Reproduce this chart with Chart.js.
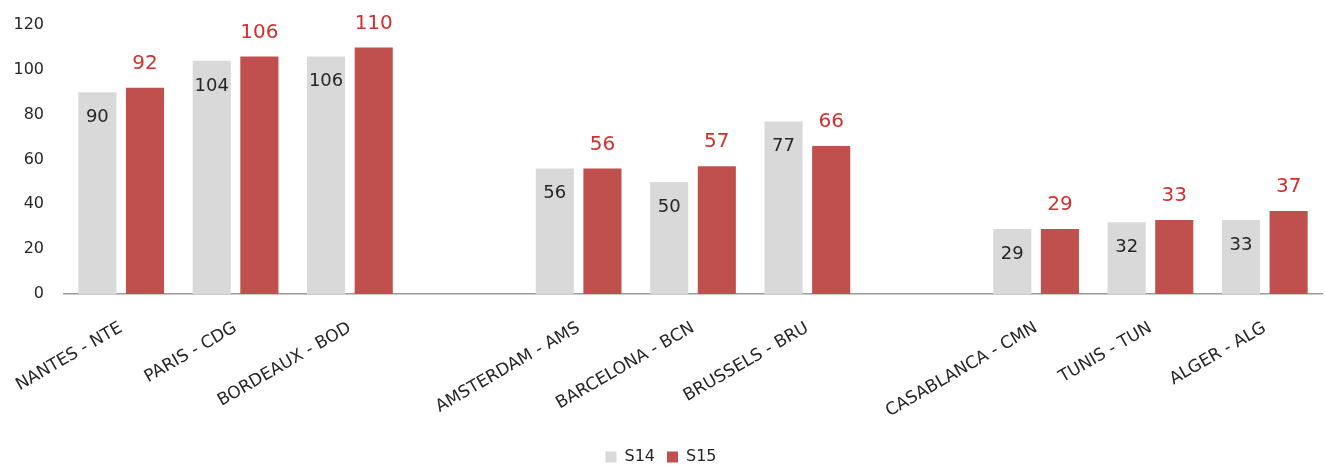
<!DOCTYPE html>
<html>
<head>
<meta charset="utf-8">
<script src="https://cdn.jsdelivr.net/npm/chart.js@4"></script>
<style>
  body { margin: 0; background: #fff; }
  #wrap { width: 1325px; height: 465px; }
</style>
</head>
<body>
<div id="wrap"><canvas id="my_bar_chart"></canvas></div>
<script>
// data
const airports = [
  "NANTES - NTE",
  "PARIS - CDG",
  "BORDEAUX - BOD",
  "",
  "AMSTERDAM - AMS",
  "BARCELONA - BCN",
  "BRUSSELS - BRU",
  "",
  "CASABLANCA - CMN",
  "TUNIS - TUN",
  "ALGER - ALG",
];
const s14 = [90, 104, 106, null, 56, 50, 77, null, 29, 32, 33];
const s15 = [92, 106, 110, null, 56, 57, 66, null, 29, 33, 37];
const yTicks = [0, 20, 40, 60, 80, 100, 120];

const FONT = "'DejaVu Sans'";

// draws the numbers on/above the bars
const valueLabels = {
  id: "valueLabels",
  afterDatasetsDraw(chart) {
    const ctx = chart.ctx;
    chart.data.datasets.forEach((ds, i) => {
      const meta = chart.getDatasetMeta(i);
      meta.data.forEach((bar, j) => {
        const v = ds.data[j];
        if (v == null) return;
        ctx.save();
        ctx.textAlign = "center";
        ctx.textBaseline = "middle";
        if (i == 0) {
          ctx.font = "18px " + FONT;
          ctx.fillStyle = "#262626";
          ctx.fillText(v, bar.x, bar.y + 25);
        } else {
          ctx.font = "20px " + FONT;
          ctx.fillStyle = "#d32f2f";
          ctx.fillText(v, bar.x, bar.y - 24);
        }
        ctx.restore();
      });
    });
  },
};

const bar_chart = document.getElementById("my_bar_chart");
new Chart(bar_chart, {
  type: "bar",
  data: {
    labels: airports,
    datasets: [
      {
        label: "S14",
        data: s14,
        backgroundColor: "#d9d9d9",
        categoryPercentage: 0.833,
        barPercentage: 0.8,
      },
      {
        label: "S15",
        data: s15,
        backgroundColor: "#c0504d",
        categoryPercentage: 0.833,
        barPercentage: 0.8,
      },
    ],
  },
  options: {
    responsive: true,
    maintainAspectRatio: false,
    animation: false,
    layout: {
      padding: { top: 25, right: 3, left: 0, bottom: -10 },
    },
    plugins: {
      legend: {
        position: "bottom",
        labels: {
          boxWidth: 11,
          boxHeight: 11,
          padding: 12,
          color: "#262626",
          font: { family: FONT, size: 16 },
        },
      },
      tooltip: { enabled: false },
    },
    scales: {
      x: {
        grid: { display: false, drawTicks: false },
        border: { color: "#9a9a9a", width: 1.5 },
        ticks: {
          autoSkip: false,
          minRotation: 30,
          maxRotation: 30,
          padding: 24,
          color: "#262626",
          font: { family: FONT, size: 17 },
        },
        afterFit(scale) {
          scale.height = 143;
          scale.paddingLeft = 0;
          scale.paddingRight = 0;
        },
      },
      y: {
        min: 0,
        max: 120,
        grid: { display: false, drawTicks: false },
        border: { display: false },
        afterBuildTicks(scale) {
          scale.ticks = yTicks.map((v) => ({ value: v }));
        },
        ticks: {
          padding: 20,
          color: "#262626",
          font: { family: FONT, size: 16 },
        },
        afterFit(scale) {
          scale.width = 64;
          scale.paddingTop = 0;
          scale.paddingBottom = 0;
        },
      },
    },
  },
  plugins: [valueLabels],
});
</script>
</body>
</html>
